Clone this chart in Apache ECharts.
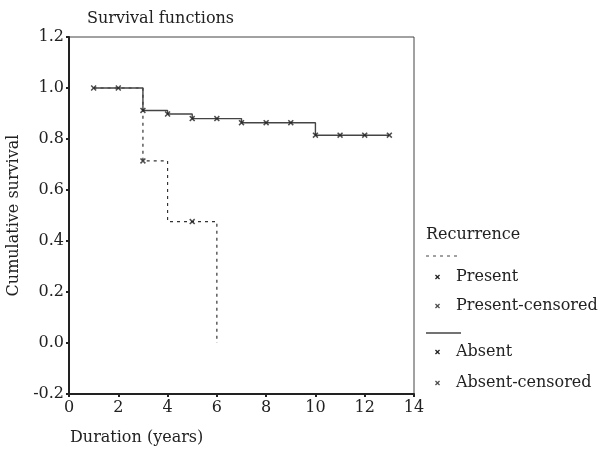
<!DOCTYPE html>
<html>
<head>
<meta charset="utf-8">
<script src="https://cdn.jsdelivr.net/npm/echarts@6/dist/echarts.min.js"></script>
<style>
  html, body { margin: 0; padding: 0; background: #fff; }
  #chart { width: 600px; height: 451px; }
</style>
</head>
<body>
<div id="chart"></div>
<script>
// Kaplan-Meier curves
const absentTimes = [1, 2, 3, 4, 5, 6, 7, 8, 9, 10, 11, 12, 13]
const absentSurvival = [1.0, 1.0, 0.912, 0.898, 0.880, 0.880, 0.864, 0.864, 0.864, 0.815, 0.815, 0.815, 0.815]

const presentTimes = [1, 3, 4, 5, 6]
const presentSurvival = [1.0, 0.714, 0.476, 0.476, 0.0]

// censored marks on the Present curve
const presentMarkTimes = [3, 5]
const presentMarkSurvival = [0.714, 0.476]

const yTicks = [-0.2, 0.0, 0.2, 0.4, 0.6, 0.8, 1.0, 1.2]
const xTicks = [0, 2, 4, 6, 8, 10, 12, 14]

const FONT = 'DejaVu Serif'
const FS = 16
const INK = '#222'
const crossIcon = 'path://M0,1.8L1.8,0L5,3.2L8.2,0L10,1.8L6.8,5L10,8.2L8.2,10L5,6.8L1.8,10L0,8.2L3.2,5Z'

const zip = (xs, ys) => xs.map((x, i) => [x, ys[i]])

const chart = echarts.init(document.getElementById('chart'))

const option = {
  animation: false,
  textStyle: { fontFamily: FONT, color: INK },
  grid: {
    left: 69, right: 186, top: 37, bottom: 57,
    outerBoundsMode: 'none',
    containLabel: false,
    show: true, borderColor: '#444', borderWidth: 1
  },
  title: {
    text: 'Survival functions',
    left: 82, top: 6,
    textStyle: { fontFamily: FONT, fontSize: FS, fontWeight: 'normal', color: INK }
  },
  xAxis: {
    type: 'value',
    min: xTicks[0], max: xTicks[xTicks.length - 1], interval: 2,
    splitLine: { show: false },
    axisLine: { onZero: false, lineStyle: { color: '#222', width: 2 } },
    axisTick: { length: 3, lineStyle: { color: '#222', width: 2 } },
    axisLabel: { fontFamily: FONT, fontSize: FS, color: INK, margin: 6 }
  },
  yAxis: {
    type: 'value',
    min: yTicks[0], max: yTicks[yTicks.length - 1], interval: 0.2,
    name: 'Cumulative survival',
    nameLocation: 'middle',
    nameGap: 44,
    nameTextStyle: { fontFamily: FONT, fontSize: FS, color: INK },
    splitLine: { show: false },
    axisLine: { onZero: false, lineStyle: { color: '#222', width: 2 } },
    axisTick: { length: 3, lineStyle: { color: '#222', width: 2 } },
    axisLabel: {
      fontFamily: FONT, fontSize: FS, color: INK, margin: 5,
      formatter: v => v.toFixed(1)
    }
  },
  legend: [
    {
      orient: 'vertical', left: 430, top: 264,
      data: ['Present', 'Present-censored'],
      icon: crossIcon, itemWidth: 5, itemHeight: 5, itemGap: 13,
      textStyle: { fontFamily: FONT, fontSize: FS, color: INK, padding: [0, 0, 0, 11] },
      selectedMode: false
    },
    {
      orient: 'vertical', left: 430, top: 339,
      data: ['Absent', 'Absent-censored'],
      icon: crossIcon, itemWidth: 5, itemHeight: 5, itemGap: 15,
      textStyle: { fontFamily: FONT, fontSize: FS, color: INK, padding: [0, 0, 0, 11] },
      selectedMode: false
    }
  ],
  graphic: [
    {
      type: 'text', left: 426, top: 227,
      style: { text: 'Recurrence', font: FS + 'px ' + FONT, fill: INK }
    },
    {
      type: 'line', shape: { x1: 426, y1: 256, x2: 461, y2: 256 },
      style: { stroke: '#444', lineWidth: 1, lineDash: [3, 4] }
    },
    {
      type: 'line', shape: { x1: 426, y1: 333, x2: 461, y2: 333 },
      style: { stroke: '#444', lineWidth: 1.5 }
    },
    {
      type: 'text', left: 70, top: 430,
      style: { text: 'Duration (years)', font: FS + 'px ' + FONT, fill: INK }
    }
  ],
  series: [
    {
      name: 'Present',
      type: 'line',
      step: 'end',
      data: zip(presentTimes, presentSurvival),
      symbol: 'none',
      z: 2,
      itemStyle: { color: '#222' },
      lineStyle: { color: '#333', width: 1.2, type: [3, 4] }
    },
    {
      name: 'Present-censored',
      type: 'scatter',
      data: zip(presentMarkTimes, presentMarkSurvival),
      symbol: crossIcon,
      symbolSize: 6,
      z: 4,
      itemStyle: { color: '#222' }
    },
    {
      name: 'Absent',
      type: 'line',
      step: 'end',
      data: zip(absentTimes, absentSurvival),
      symbol: 'none',
      z: 3,
      itemStyle: { color: '#222' },
      lineStyle: { color: '#444', width: 1.4 }
    },
    {
      name: 'Absent-censored',
      type: 'scatter',
      data: zip(absentTimes, absentSurvival),
      symbol: crossIcon,
      symbolSize: 6,
      z: 4,
      itemStyle: { color: '#222' }
    }
  ]
}

chart.setOption(option)
</script>
</body>
</html>
